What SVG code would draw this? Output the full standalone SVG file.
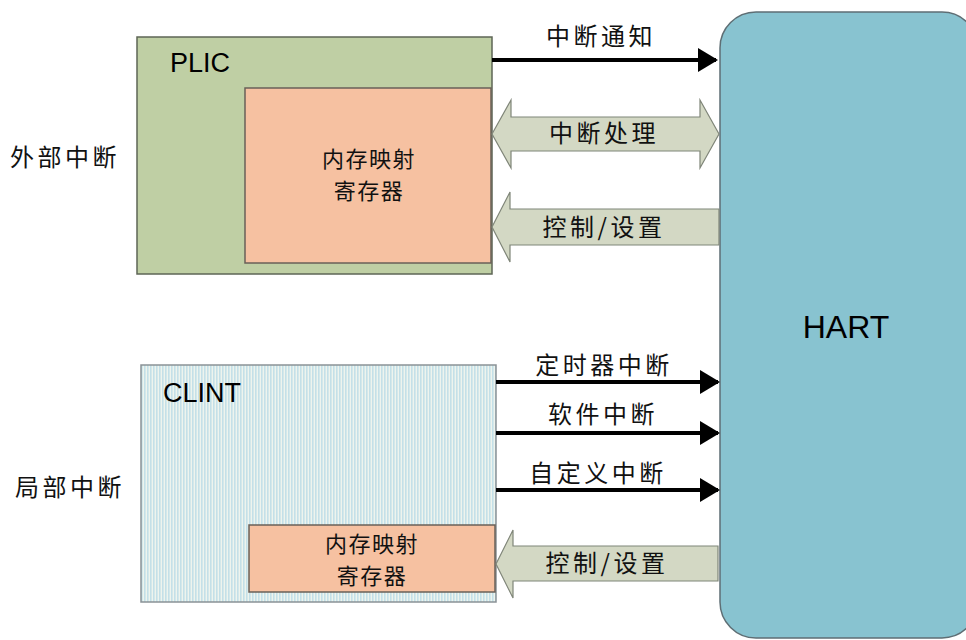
<svg xmlns="http://www.w3.org/2000/svg" width="966" height="640" viewBox="0 0 966 640">
<defs>
<pattern id="stripes" width="3" height="6" patternUnits="userSpaceOnUse">
<rect width="3" height="6" fill="#EEF4EE"/>
<rect width="1.6" height="6" fill="#C4E0E8"/>
</pattern>
<marker id="ah" markerWidth="5" markerHeight="6" refX="4.5" refY="3" orient="auto" markerUnits="strokeWidth">
<path d="M0,0 L5,3 L0,6 Z" fill="#000"/>
</marker>
</defs>
<style>
.cjk{font-family:"Noto Sans CJK SC","Noto Sans",sans-serif;fill:#111;}
.lat{font-family:"Liberation Sans",Arial,sans-serif;fill:#000;}
.lbl{font-size:24px;letter-spacing:3.5px;}
.reg{font-size:22px;letter-spacing:1.5px;}
.blk{stroke:#000;stroke-width:4;fill:none;marker-end:url(#ah);}
.big{fill:#D3D8C4;stroke:#7F8578;stroke-width:1.2;}
.regbox{fill:#F6C1A1;stroke:#6A6058;stroke-width:1.5;}
</style>

<g id="label-external"><text class="cjk lbl" x="10" y="166">外部中断</text></g>
<g id="label-local"><text class="cjk lbl" x="15" y="496">局部中断</text></g>

<g id="HART">
<rect x="720" y="12" width="258" height="626" rx="36" fill="#88C3D0" stroke="#5E6E74" stroke-width="1.5"/>
<text class="lat" x="846" y="338" font-size="32" text-anchor="middle">HART</text>
</g>

<g id="PLIC">
<rect x="137" y="37" width="355" height="237" fill="#BFCFA4" stroke="#5E6656" stroke-width="1.5"/>
<text class="lat" x="170" y="72" font-size="27">PLIC</text>
</g>
<g id="PLIC-reg">
<rect class="regbox" x="245" y="88" width="246" height="175"/>
<text class="cjk reg" x="369" y="167" text-anchor="middle">内存映射</text>
<text class="cjk reg" x="369" y="199" text-anchor="middle">寄存器</text>
</g>

<g id="CLINT">
<rect x="141" y="365" width="355" height="237" fill="url(#stripes)" stroke="#8A9296" stroke-width="1.5"/>
<text class="lat" x="163" y="402" font-size="27">CLINT</text>
</g>
<g id="CLINT-reg">
<rect class="regbox" x="249" y="525" width="246" height="67"/>
<text class="cjk reg" x="372" y="552" text-anchor="middle">内存映射</text>
<text class="cjk reg" x="372" y="584" text-anchor="middle">寄存器</text>
</g>

<g id="connectors">
<line class="blk" x1="492" y1="60" x2="716" y2="60"/>
<path class="big" d="M492,134 L511,100 L511,117 L700,117 L700,100 L719,134 L700,168 L700,151 L511,151 L511,168 Z"/>
<path class="big" d="M492,227 L510,192 L510,209 L719,209 L719,245 L510,245 L510,262 Z"/>
<line class="blk" x1="496" y1="382" x2="718" y2="382"/>
<line class="blk" x1="496" y1="433" x2="718" y2="433"/>
<line class="blk" x1="496" y1="490" x2="718" y2="490"/>
<path class="big" d="M496,564 L513,530 L513,546 L718,546 L718,581 L513,581 L513,598 Z"/>
</g>

<g id="connector-labels">
<text class="cjk lbl" x="601" y="45" text-anchor="middle">中断通知</text>
<text class="cjk lbl" x="604" y="142" text-anchor="middle">中断处理</text>
<text class="cjk lbl" x="604" y="236" text-anchor="middle">控制/设置</text>
<text class="cjk lbl" x="604" y="374" text-anchor="middle">定时器中断</text>
<text class="cjk lbl" x="603" y="423" text-anchor="middle">软件中断</text>
<text class="cjk lbl" x="598" y="482" text-anchor="middle">自定义中断</text>
<text class="cjk lbl" x="607" y="572" text-anchor="middle">控制/设置</text>
</g>
</svg>
